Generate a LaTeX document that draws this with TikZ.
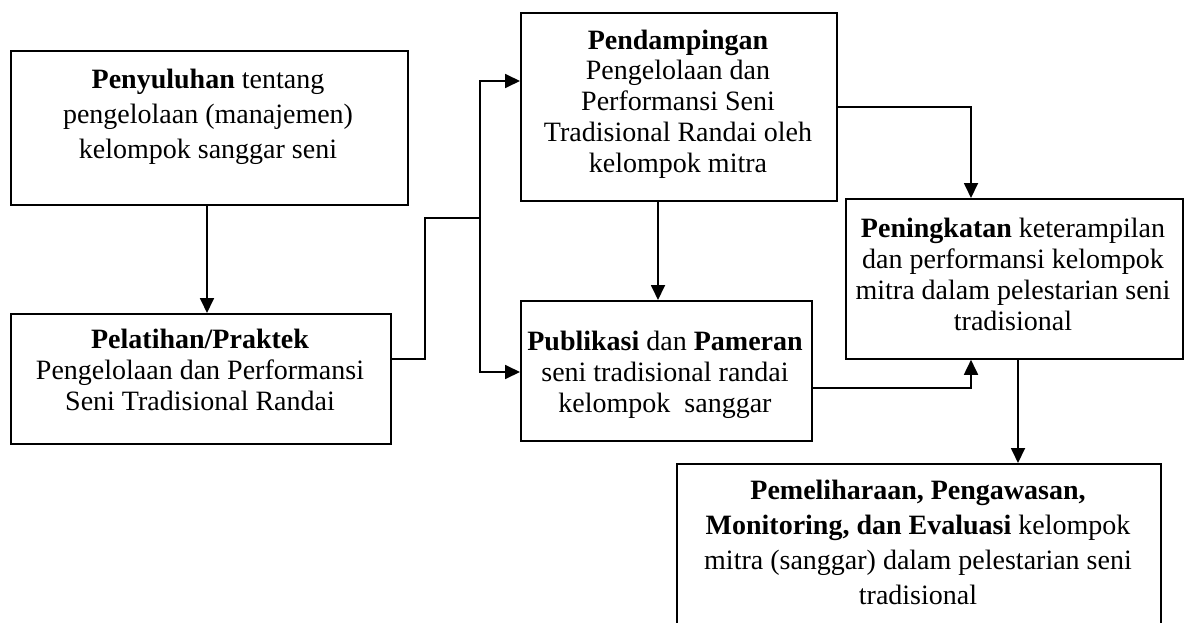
\documentclass[tikz,border=0pt]{standalone}
\usepackage{fontspec}
\setmainfont{Liberation Serif}
\usetikzlibrary{arrows.meta}
\begin{document}
\begin{tikzpicture}[x=1pt,y=-1pt,
  boxstyle/.style={draw,line width=1.8pt,rectangle,inner sep=0pt},
  txt/.style={inner sep=0pt,align=center,anchor=base,font=\fontsize{28}{30.7}\selectfont},
  txtwide/.style={inner sep=0pt,align=center,anchor=base,font=\fontsize{28}{35}\selectfont},
  conn/.style={line width=1.8pt},
  arr/.style={line width=1.8pt,-{Triangle[length=15pt,width=14pt]}}]
\useasboundingbox (0,0) rectangle (1185,623);
\clip (0,0) rectangle (1185,623);
% boxes
\node[boxstyle,minimum width=397pt,minimum height=154pt,anchor=north west] (b1) at (10,50) {};
\node[boxstyle,minimum width=380pt,minimum height=130pt,anchor=north west] (b2) at (10,313) {};
\node[boxstyle,minimum width=316pt,minimum height=188pt,anchor=north west] (b3) at (520,12) {};
\node[boxstyle,minimum width=291pt,minimum height=140pt,anchor=north west] (b4) at (520,300) {};
\node[boxstyle,minimum width=337pt,minimum height=160pt,anchor=north west] (b5) at (845,198) {};
\node[boxstyle,minimum width=484pt,minimum height=190pt,anchor=north west] (b6) at (676,463) {};
% texts (anchored at the baseline of the last line)
\node[txtwide] (t1) at (208,158) {\textbf{Penyuluhan} tentang\\pengelolaan (manajemen)\\kelompok sanggar seni};
\node[txt] (t2) at (200,410) {\textbf{Pelatihan/Praktek}\\Pengelolaan dan Performansi\\Seni Tradisional Randai};
\node[txt] (t3) at (678,172) {\textbf{Pendampingan}\\Pengelolaan dan\\Performansi Seni\\Tradisional Randai oleh\\kelompok mitra};
\node[txt] (t4) at (665,412) {\textbf{Publikasi} dan \textbf{Pameran}\\seni tradisional randai\\kelompok\ \ sanggar};
\node[txt] (t5) at (1013,330) {\textbf{Peningkatan} keterampilan\\dan performansi kelompok\\mitra dalam pelestarian seni\\tradisional};
\node[txtwide] (t6) at (918,604) {\textbf{Pemeliharaan, Pengawasan,}\\\textbf{Monitoring, dan Evaluasi} kelompok\\mitra (sanggar) dalam pelestarian seni\\tradisional};
% junction coordinates
\coordinate (j1) at (425,359);
\coordinate (j2) at (425,218);
\coordinate (j3) at (480,218);
\coordinate (j4) at (971,107);
\coordinate (j5) at (971,388);
% connectors
\draw[arr] (b1.south -| 207,0) -- (b2.north -| 207,0);
\draw[conn] (b2.east |- j1) -- (j1) -- (j2) -- (j3);
\draw[arr] (j3) |- (b3.west |- 0,81);
\draw[arr] (j3) |- (b4.west |- 0,372);
\draw[arr] (b3.south -| 658,0) -- (b4.north -| 658,0);
\draw[arr] (b3.east |- j4) -| (b5.north -| j4);
\draw[arr] (b4.east |- j5) -| (b5.south -| j5);
\draw[arr] (b5.south -| 1018,0) -- (b6.north -| 1018,0);
\end{tikzpicture}
\end{document}
